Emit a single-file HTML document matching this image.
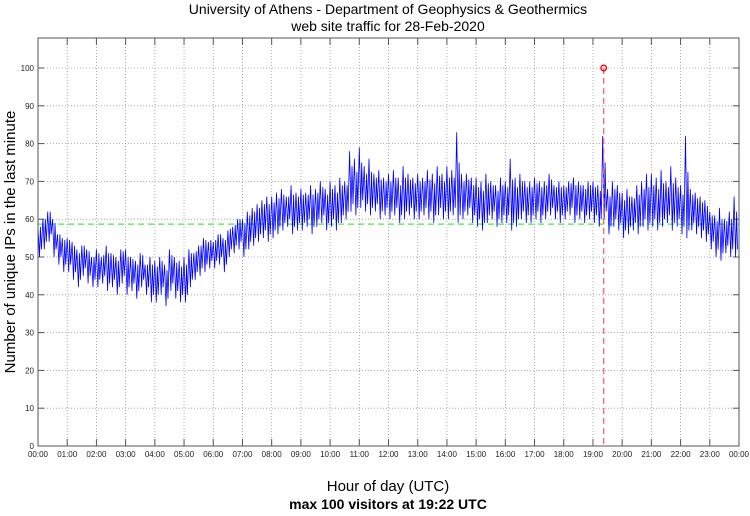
<!DOCTYPE html>
<html><head><meta charset="utf-8"><style>
body{margin:0;background:#fff;}
svg text{font-family:"Liberation Sans",sans-serif;}
</style></head><body>
<svg id="chart" width="750" height="511" xmlns="http://www.w3.org/2000/svg">
<text x="388" y="14" font-size="14" text-anchor="middle">University of Athens - Department of Geophysics &amp; Geothermics</text>
<text x="388" y="31" font-size="14" text-anchor="middle">web site traffic for 28-Feb-2020</text>
<g id="grid"></g>
<g id="axes"></g>
<line id="mean" stroke="#44ee44" stroke-width="1.2" stroke-dasharray="6,4"/>
<path id="series" fill="none" stroke="#0000ff" stroke-width="0.8"/>
<line id="maxline" stroke="#ff6666" stroke-width="1.3" stroke-dasharray="6,4"/>
<circle id="maxpt" r="2.8" fill="none" stroke="#ff0000" stroke-width="1.3"/>
<rect x="38" y="38" width="701" height="408" fill="none" stroke="#555" stroke-width="1"/>
<text transform="translate(15,242) rotate(-90)" font-size="15" text-anchor="middle">Number of unique IPs in the last minute</text>
<text x="388" y="491" font-size="15" text-anchor="middle">Hour of day (UTC)</text>
<text x="388" y="509" font-size="14" font-weight="bold" text-anchor="middle">max 100 visitors at 19:22 UTC</text>
</svg>
<script>
const yTicks=[0,10,20,30,40,50,60,70,80,90,100];
const xTickLabels=["00:00","01:00","02:00","03:00","04:00","05:00","06:00","07:00","08:00","09:00","10:00","11:00","12:00","13:00","14:00","15:00","16:00","17:00","18:00","19:00","20:00","21:00","22:00","23:00","00:00"];
const hiVals=[58,60,62,60,56,55, 55,54,52,53,52,50, 52,50,53,51,50,52, 52,50,49,51,48,50, 49,50,48,52,50,49, 50,52,51,53,55,54,
54,56,55,57,58,60, 60,62,63,64,65,66, 66,67,68,66,69,67, 68,67,69,68,70,68, 70,69,71,70,78,76, 79,74,76,72,73,71,
72,73,71,74,72,71, 72,71,73,72,74,72, 74,73,83,72,72,71, 71,70,72,70,69,71, 70,76,71,72,70,70, 71,70,70,72,69,70,
69,70,71,70,69,70, 70,69,82,68,70,69, 67,68,66,69,70,72, 72,71,73,70,74,71, 69,82,68,67,66,65, 62,61,63,60,62,66];
const loVals=[50,52,54,50,48,46, 46,44,42,45,43,42, 42,43,41,42,40,43, 40,41,39,42,40,38, 38,40,37,41,39,38, 38,42,44,45,46,47,
47,48,46,50,51,52, 50,52,53,54,55,54, 55,56,57,58,56,57, 57,58,56,58,59,57, 58,57,59,60,62,61, 63,62,61,62,60,61,
60,61,59,60,61,60, 60,61,60,59,61,60, 60,61,59,60,61,59, 58,57,59,60,58,59, 59,57,58,60,59,59, 60,59,60,61,60,59,
60,61,59,60,59,60, 59,58,60,56,58,57, 55,56,57,56,58,57, 58,57,58,59,57,58, 56,55,57,56,55,54, 52,50,49,51,50,50];
const meanVal=[58.7];
const maxMinute=[19*60+22];
const maxVal=[100];

const X0=38,X1=739,Y0=446,YPX=3.78;
const xs=m=>X0+(X1-X0)*m/1440;
const ys=v=>Y0-v*YPX;
const NS="http://www.w3.org/2000/svg";
function mk(t,a,p){const e=document.createElementNS(NS,t);for(const k in a)e.setAttribute(k,a[k]);p.appendChild(e);return e;}
const grid=document.getElementById('grid'),axes=document.getElementById('axes');
yTicks.forEach(v=>{
  const l=mk('line',{x1:X0,x2:X1,y1:ys(v),y2:ys(v),stroke:'#999','stroke-dasharray':'1,2','stroke-width':0.8},grid);
  
  
  const t=mk('text',{x:X0-4,y:ys(v)+3,'font-size':8,'text-anchor':'end',fill:'#222'},axes);
  t.textContent=v;
  
  
  mk('line',{x1:X0,x2:X0+6,y1:ys(v),y2:ys(v),stroke:'#555'},axes);
  mk('line',{x1:X1-6,x2:X1,y1:ys(v),y2:ys(v),stroke:'#555'},axes);
});
xTickLabels.forEach((s,i)=>{
  const x=xs(i*60);
  const l=mk('line',{x1:x,x2:x,y1:38,y2:Y0,stroke:'#999','stroke-dasharray':'1,2','stroke-width':0.8},grid);
  
  
  const t=mk('text',{x:x,y:457,'font-size':8,'text-anchor':'middle',fill:'#222'},axes);
  t.textContent=s;
  
  
  mk('line',{x1:x,x2:x,y1:Y0,y2:Y0-7,stroke:'#555'},axes);
  mk('line',{x1:x,x2:x,y1:38,y2:45,stroke:'#555'},axes);
});
const m=document.getElementById('mean');
m.setAttribute('x1',X0);m.setAttribute('x2',X1);m.setAttribute('y1',ys(meanVal[0]));m.setAttribute('y2',ys(meanVal[0]));
let d='';
for(let i=0;i<hiVals.length;i++){
  d+=(i?'L':'M')+xs(i*10).toFixed(1)+','+ys(hiVals[i]).toFixed(1);
  d+='L'+xs(i*10+3).toFixed(1)+','+ys(loVals[i]).toFixed(1);
  d+='L'+xs(i*10+5).toFixed(1)+','+ys((hiVals[i]+loVals[i])/2+4).toFixed(1);
  d+='L'+xs(i*10+7).toFixed(1)+','+ys(loVals[i]+2).toFixed(1);
}
document.getElementById('series').setAttribute('d',d);
const ml=document.getElementById('maxline');
ml.setAttribute('x1',xs(maxMinute[0]));ml.setAttribute('x2',xs(maxMinute[0]));
ml.setAttribute('y1',ys(maxVal[0]));ml.setAttribute('y2',Y0);
const mp=document.getElementById('maxpt');
mp.setAttribute('cx',xs(maxMinute[0]));mp.setAttribute('cy',ys(maxVal[0]));
</script>
</body></html>
